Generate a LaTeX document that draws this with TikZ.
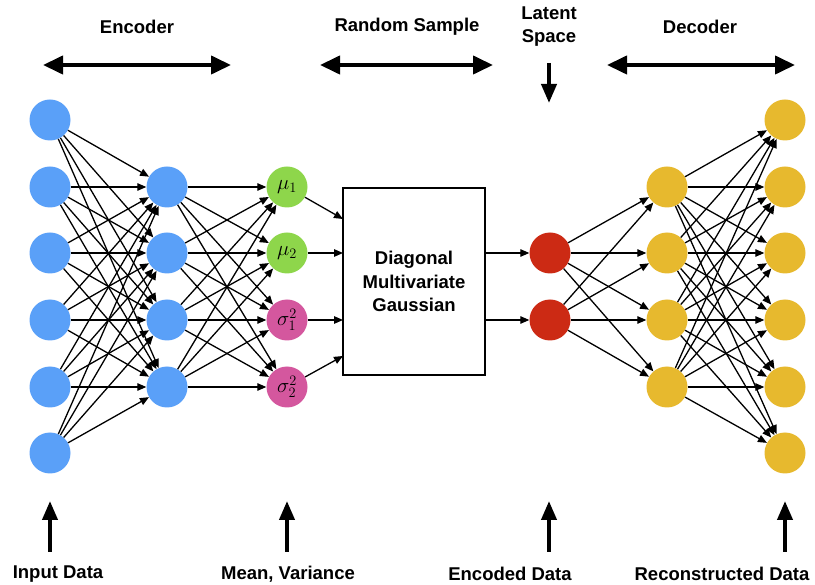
\documentclass[tikz,border=0pt]{standalone}
\usepackage{fontspec}
\setmainfont{Liberation Sans}
\usetikzlibrary{arrows.meta}
\definecolor{cblue}{HTML}{5AA0F8}
\definecolor{cgreen}{HTML}{8ED64B}
\definecolor{cpink}{HTML}{D4579E}
\definecolor{cred}{HTML}{CC2A14}
\definecolor{cyel}{HTML}{E7B92E}
\begin{document}
\begin{tikzpicture}[x=1pt,y=-1pt,
  neuron/.style={circle,minimum size=41pt,inner sep=0pt,font=\fontsize{21}{21}\selectfont},
  conn/.style={-{Triangle[length=9pt,width=7.5pt]},line width=1.3pt},
  bigdbl/.style={{Triangle[length=20pt,width=18pt]}-{Triangle[length=20pt,width=18pt]},line width=4pt},
  bigone/.style={-{Triangle[length=19pt,width=15pt]},line width=4pt},
  lbl/.style={font=\fontsize{18.5}{23}\selectfont\bfseries,align=center},
  blbl/.style={font=\fontsize{18.5}{20}\selectfont\bfseries}]
\useasboundingbox (0,0) rectangle (815,585);
% input
\foreach \i/\y in {1/120,2/187,3/253,4/320,5/387,6/453}
  \node[neuron,fill=cblue] (in\i) at (50,\y) {};
\foreach \i/\y in {1/187,2/253,3/320,4/387}
  \node[neuron,fill=cblue] (h\i) at (167,\y) {};
\node[neuron,fill=cgreen] (m1) at (287,187) {$\mu_1$};
\node[neuron,fill=cgreen] (m2) at (287,253) {$\mu_2$};
\node[neuron,fill=cpink] (m3) at (287,320) {$\sigma_1^2$};
\node[neuron,fill=cpink] (m4) at (287,387) {$\sigma_2^2$};
\node[draw,line width=1.2pt,minimum width=142pt,minimum height=187pt,align=center,font=\fontsize{18.5}{23.5}\selectfont\bfseries] (box) at (414,281.5) {Diagonal\\Multivariate\\Gaussian};
\node[neuron,fill=cred] (z1) at (550,253) {};
\node[neuron,fill=cred] (z2) at (550,320) {};
\foreach \i/\y in {1/187,2/253,3/320,4/387}
  \node[neuron,fill=cyel] (d\i) at (667,\y) {};
\foreach \i/\y in {1/120,2/187,3/253,4/320,5/387,6/453}
  \node[neuron,fill=cyel] (o\i) at (785,\y) {};
% connections
\foreach \a in {1,...,6}
  \foreach \b in {1,...,4}
    \draw[conn] (in\a) -- (h\b);
\foreach \a in {1,...,4}
  \foreach \b in {1,...,4}
    \draw[conn] (h\a) -- (m\b);
\coordinate (b1) at (343,219);
\coordinate (b2) at (343,253);
\coordinate (b3) at (343,320);
\coordinate (b4) at (343,356);
\foreach \a in {1,...,4}
  \draw[conn] (m\a) -- (b\a);
\draw[conn] (box.east |- z1) -- (z1);
\draw[conn] (box.east |- z2) -- (z2);
\foreach \a in {1,2}
  \foreach \b in {1,...,4}
    \draw[conn] (z\a) -- (d\b);
\foreach \a in {1,...,4}
  \foreach \b in {1,...,6}
    \draw[conn] (d\a) -- (o\b);
% top labels
\node[lbl] (tEnc) at (137,27) {Encoder};
\node[lbl] (tRs) at (407,27) {Random Sample};
\node[lbl] (tLs) at (549,27) {Latent\\Space};
\node[lbl] (tDec) at (700,27) {Decoder};
\coordinate (e1) at (43,65); \coordinate (e2) at (231,65);
\coordinate (r1) at (320,65); \coordinate (r2) at (493,65);
\coordinate (dd1) at (607,65); \coordinate (dd2) at (795,65);
\coordinate (l1) at (549,63); \coordinate (l2) at (549,103);
\draw[bigdbl] (e1) -- (e2);
\draw[bigdbl] (r1) -- (r2);
\draw[bigdbl] (dd1) -- (dd2);
\draw[bigone] (l1) -- (l2);
% bottom
\foreach \n/\x in {p1/50,p2/287,p3/549,p4/785}{
  \coordinate (\n a) at (\x,552); \coordinate (\n b) at (\x,501);
  \draw[bigone] (\n a) -- (\n b);}
\node[blbl] (bIn) at (58,574) {Input Data};
\node[blbl] (bMv) at (288,574) {Mean, Variance};
\node[blbl] (bEd) at (510,574) {Encoded Data};
\node[blbl] (bRd) at (722,574) {Reconstructed Data};
\end{tikzpicture}
\end{document}
